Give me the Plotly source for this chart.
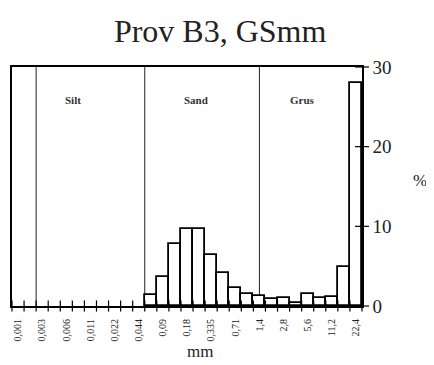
import plotly.graph_objects as go

# --- data ---
bin_labels = ["0,001", "0,003", "0,006", "0,011", "0,022", "0,044", "0,09", "0,18",
              "0,335", "0,71", "1,4", "2,8", "5,6", "11,2", "22,4"]
bar_bins = list(range(11, 29))  # bin index (each bin = half a labelled step)
percent = [1.4, 3.6, 7.8, 9.7, 9.7, 6.4, 4.2, 2.3, 1.5, 1.25, 0.85, 0.95, 0.4,
           1.55, 0.95, 1.1, 4.9, 28.0]
class_names = ["Silt", "Sand", "Grus"]
class_pos = [4.55, 14.75, 23.6]
class_bounds = [1.5, 10.5, 20]
y_ticks = [0, 10, 20, 30]

n_bins = 2 * len(bin_labels) - 1
label_pos = [2 * i for i in range(len(bin_labels))]
edges = [i - 0.5 for i in range(n_bins + 1)]

SERIF = "Liberation Serif, Times New Roman, serif"

fig = go.Figure()
fig.add_trace(go.Bar(
    x=bar_bins, y=percent, width=1.0,
    marker=dict(color="white", line=dict(color="black", width=1.8)),
    showlegend=False, hoverinfo="skip",
))
# crossing ticks on the bottom axis
fig.add_trace(go.Scatter(
    x=edges, y=[0] * len(edges), mode="markers",
    marker=dict(symbol="line-ns", size=8, line=dict(color="black", width=1.2)),
    cliponaxis=False, showlegend=False, hoverinfo="skip",
))
# crossing ticks on the right axis
fig.add_trace(go.Scatter(
    x=[edges[-1]] * len(y_ticks), y=y_ticks, mode="markers",
    marker=dict(symbol="line-ew", size=10, line=dict(color="black", width=1.2)),
    cliponaxis=False, showlegend=False, hoverinfo="skip",
))

for xb in class_bounds:
    fig.add_shape(type="line", x0=xb, x1=xb, y0=0, y1=30, xref="x", yref="y",
                  line=dict(color="#222222", width=1), layer="below")

for name, xp in zip(class_names, class_pos):
    fig.add_annotation(x=xp, y=25.9, text="<b>%s</b>" % name, showarrow=False,
                       font=dict(family=SERIF, size=11, color="#333333"))

fig.add_annotation(text="mm", xref="paper", yref="paper", x=0.537, y=-0.192,
                   xanchor="center", yanchor="middle",
                   showarrow=False, font=dict(family=SERIF, size=17, color="#222222"))
fig.add_annotation(text="%", xref="paper", yref="paper", x=1.166, y=0.527,
                   xanchor="center", yanchor="middle",
                   showarrow=False, font=dict(family=SERIF, size=17, color="#222222"))

fig.update_layout(
    width=426, height=357,
    margin=dict(l=4, r=72, t=59, b=59),
    paper_bgcolor="white", plot_bgcolor="white",
    title=dict(text="Prov B3, GSmm", x=0.498, xanchor="center", y=0.937, yanchor="middle",
               font=dict(family=SERIF, size=32, color="#222222")),
    bargap=0,
    xaxis=dict(range=[edges[0], edges[-1]], tickvals=label_pos, ticktext=bin_labels,
               tickangle=-90, ticks="outside", ticklen=7, tickcolor="rgba(0,0,0,0)",
               tickfont=dict(family=SERIF, size=10, color="#222222"),
               showgrid=False, zeroline=False, showline=True, linecolor="black",
               linewidth=2, mirror=True, fixedrange=True, automargin=False),
    yaxis=dict(range=[0, 30], side="right", tickvals=y_ticks, ticks="outside",
               ticklen=5, tickcolor="rgba(0,0,0,0)",
               tickfont=dict(family=SERIF, size=19, color="#222222"),
               showgrid=False, zeroline=False, showline=True, linecolor="black",
               linewidth=1.5, mirror=True, fixedrange=True, automargin=False),
)

fig.write_html("out.html")
